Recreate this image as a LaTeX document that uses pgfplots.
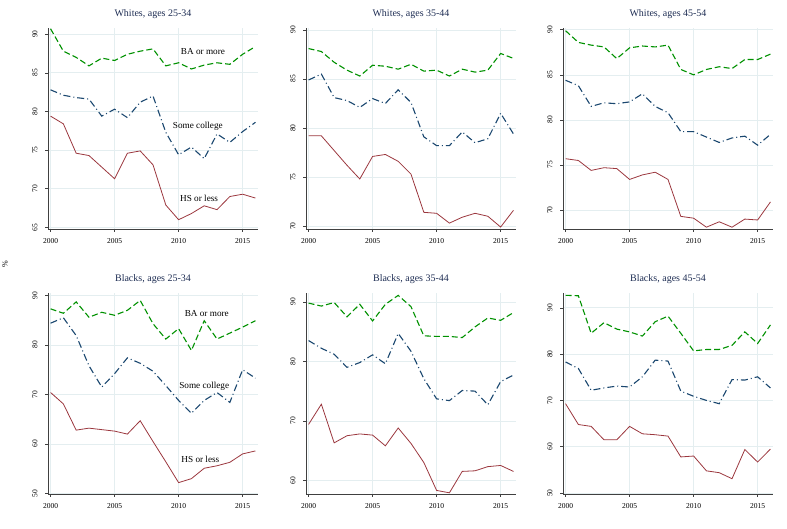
\documentclass[border=0pt]{standalone}
\usepackage{fontspec}
\setmainfont{Liberation Serif}
\usepackage{pgfplots}
\usepackage{pgfplotstable}
\pgfplotsset{compat=1.18}

\definecolor{bagreen}{RGB}{0,145,0}
\definecolor{scblue}{RGB}{26,71,111}
\definecolor{hsred}{RGB}{155,55,62}
\definecolor{titlec}{RGB}{30,45,83}
\definecolor{gridc}{RGB}{228,238,240}

% year, BA or more, Some college, HS or less
\pgfplotstableread{
year ba sc hs
2000 90.7 82.8 79.4
2001 87.8 82.1 78.4
2002 87.0 81.8 74.6
2003 85.9 81.6 74.3
2004 86.9 79.4 72.8
2005 86.6 80.3 71.3
2006 87.4 79.2 74.6
2007 87.8 81.2 74.9
2008 88.1 82.0 73.1
2009 85.9 77.3 67.9
2010 86.3 74.4 66.0
2011 85.5 75.4 66.8
2012 86.0 73.9 67.8
2013 86.3 77.1 67.3
2014 86.1 76.0 69.0
2015 87.4 77.4 69.3
2016 88.4 78.6 68.8
}\wa

\pgfplotstableread{
year ba sc hs
2000 88.1 84.9 79.2
2001 87.8 85.5 79.2
2002 86.7 83.1 77.7
2003 85.9 82.8 76.2
2004 85.3 82.1 74.8
2005 86.4 83.0 77.1
2006 86.3 82.5 77.3
2007 86.0 83.9 76.6
2008 86.5 82.6 75.3
2009 85.8 79.1 71.4
2010 85.9 78.2 71.3
2011 85.3 78.2 70.3
2012 86.0 79.6 70.9
2013 85.7 78.5 71.3
2014 85.9 78.9 71.0
2015 87.6 81.5 69.9
2016 87.1 79.4 71.6
}\wb

\pgfplotstableread{
year ba sc hs
2000 89.9 84.4 75.7
2001 88.6 83.8 75.5
2002 88.3 81.5 74.4
2003 88.1 81.9 74.7
2004 86.8 81.8 74.6
2005 88.0 82.0 73.4
2006 88.2 82.9 73.9
2007 88.1 81.5 74.2
2008 88.3 80.8 73.4
2009 85.6 78.7 69.3
2010 85.0 78.7 69.1
2011 85.6 78.1 68.1
2012 85.9 77.5 68.7
2013 85.7 78.0 68.1
2014 86.7 78.2 69.0
2015 86.7 77.2 68.9
2016 87.3 78.4 70.9
}\wc

\pgfplotstableread{
year ba sc hs
2000 87.3 84.4 70.4
2001 86.4 85.5 68.1
2002 88.7 81.9 62.8
2003 85.6 75.8 63.2
2004 86.6 71.5 62.9
2005 86.0 74.2 62.6
2006 87.0 77.4 62.0
2007 89.0 76.3 64.7
2008 84.3 74.7 60.5
2009 81.2 71.8 56.4
2010 83.3 68.8 52.2
2011 78.9 66.2 53.0
2012 84.9 68.8 55.1
2013 81.2 70.4 55.6
2014 82.4 68.4 56.3
2015 83.6 75.0 58.0
2016 84.9 73.3 58.6
}\ba

\pgfplotstableread{
year ba sc hs
2000 89.8 83.5 69.4
2001 89.3 82.2 72.8
2002 89.9 81.2 66.3
2003 87.5 79.0 67.5
2004 89.6 79.8 67.8
2005 86.8 81.1 67.6
2006 89.6 79.6 65.8
2007 91.1 84.7 68.8
2008 89.2 81.7 66.2
2009 84.3 77.1 63.0
2010 84.2 73.7 58.3
2011 84.2 73.4 57.9
2012 84.0 75.1 61.5
2013 85.8 75.0 61.6
2014 87.3 72.7 62.3
2015 86.9 76.6 62.5
2016 88.2 77.7 61.5
}\bb

\pgfplotstableread{
year ba sc hs
2000 92.7 78.3 69.3
2001 92.6 76.9 64.8
2002 84.5 72.2 64.4
2003 86.8 72.7 61.5
2004 85.4 73.1 61.5
2005 84.8 72.9 64.4
2006 83.9 75.1 62.8
2007 87.0 78.7 62.6
2008 88.2 78.5 62.3
2009 84.5 72.0 57.8
2010 80.7 70.9 58.0
2011 81.0 70.0 54.8
2012 81.0 69.3 54.4
2013 81.9 74.5 53.1
2014 84.8 74.4 59.4
2015 82.3 75.1 56.7
2016 86.3 72.7 59.5
}\bc

\tikzset{lab/.style={font=\fontsize{9.2}{11}\selectfont}}

\pgfplotsset{
  panel/.style={
    scale only axis, width=210pt, height=201pt,
    anchor=north west,
    axis lines=left,
    axis line style={-, line width=0.7pt, black!75},
    xmin=1999.8, xmax=2016.2,
    xtick={2000,2005,2010,2015},
    tick align=outside, major tick length=3pt,
    tick style={black!75, line width=0.6pt},
    grid=major, major grid style={gridc, line width=0.7pt},
    /pgf/number format/1000 sep={},
    /pgf/number format/assume math mode=true,
    tick label style={font=\fontsize{7.5}{8}\selectfont},
    xticklabel style={yshift=-3pt},
    yticklabel style={rotate=90, anchor=south, yshift=4pt},
    title style={at={(0.5,1)}, anchor=south, yshift=3pt, inner sep=0pt,
      font=\fontsize{10}{12}\selectfont, text=titlec},
    clip=false,
  },
  ba/.style={bagreen, line width=1.1pt, dash pattern=on 6pt off 3pt},
  sc/.style={scblue, line width=1.1pt, dash pattern=on 7pt off 3pt on 1pt off 3pt},
  hs/.style={hsred, line width=0.8pt},
}

\newcommand{\threelines}[1]{%
  \addplot[ba] table[x=year, y=ba] {#1};
  \addplot[sc] table[x=year, y=sc] {#1};
  \addplot[hs] table[x=year, y=hs] {#1};
}

\begin{document}
\begin{tikzpicture}
\path[use as bounding box] (0,0) rectangle (787pt,529pt);

\begin{axis}[panel, at={(48pt,501pt)}, title={Whites, ages 25-34},
  ymin=64.8, ymax=90.8, ytick={65,70,75,80,85,90}]
\threelines{\wa}
\node[lab] at (axis cs:2011.9,87.7) {BA or more};
\node[lab] at (axis cs:2011.5,78.1) {Some college};
\node[lab] at (axis cs:2011.6,68.7) {HS or less};
\end{axis}

\begin{axis}[panel, at={(306pt,501pt)}, title={Whites, ages 35-44},
  ymin=69.7, ymax=90.2, ytick={70,75,80,85,90}]
\threelines{\wb}
\end{axis}

\begin{axis}[panel, at={(563pt,501pt)}, title={Whites, ages 45-54},
  ymin=67.9, ymax=90.2, ytick={70,75,80,85,90}]
\threelines{\wc}
\end{axis}

\begin{axis}[panel, at={(48pt,236pt)}, title={Blacks, ages 25-34},
  ymin=49.9, ymax=90.5, ytick={50,60,70,80,90}]
\threelines{\ba}
\node[lab] at (axis cs:2012.2,86.3) {BA or more};
\node[lab] at (axis cs:2012.0,71.6) {Some college};
\node[lab] at (axis cs:2011.7,56.9) {HS or less};
\end{axis}

\begin{axis}[panel, at={(306pt,236pt)}, title={Blacks, ages 35-44},
  ymin=57.7, ymax=91.5, ytick={60,70,80,90}]
\threelines{\bb}
\end{axis}

\begin{axis}[panel, at={(563pt,236pt)}, title={Blacks, ages 45-54},
  ymin=49.8, ymax=93.2, ytick={50,60,70,80,90}]
\threelines{\bc}
\end{axis}

\node[rotate=90, font=\fontsize{8}{9}\selectfont] at (5pt,265pt) {\%};
\end{tikzpicture}
\end{document}
